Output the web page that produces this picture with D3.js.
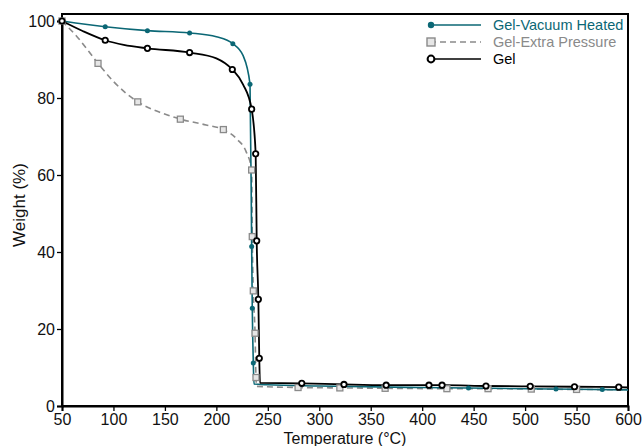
<!DOCTYPE html>
<html>
<head>
<meta charset="utf-8">
<script src="https://cdn.jsdelivr.net/npm/d3@7"></script>
<style>
  html, body { margin: 0; padding: 0; background: #fff; }
  svg { display: block; font-family: "Liberation Sans", Arial, sans-serif; }
</style>
</head>
<body>
<svg id="chart" width="644" height="446"></svg>
<script>
// TGA curves: temperature (°C) vs. remaining weight (%)
const xTicks = [50, 100, 150, 200, 250, 300, 350, 400, 450, 500, 550, 600];
const yTicks = [0, 20, 40, 60, 80, 100];

const seriesNames = ["Gel-Vacuum Heated", "Gel-Extra Pressure", "Gel"];

// Gel-Vacuum Heated
const vacCurveT = [50, 92, 133, 174, 200, 216, 226, 232.7, 234.3, 234.9, 235.9, 236.6, 250, 300, 400, 500, 600];
const vacCurveW = [100, 98.5, 97.5, 96.9, 95.9, 94.1, 91, 83.6, 41.4, 25.4, 11.2, 5.7, 5.5, 5.2, 4.8, 4.5, 4.2];
const vacMarkT = [50, 92, 133, 174, 216, 232.7, 234.3, 234.9, 235.9, 445, 530, 575];
const vacMarkW = [100, 98.5, 97.5, 96.9, 94.1, 83.6, 41.4, 25.4, 11.2, 4.7, 4.4, 4.3];

// Gel-Extra Pressure
const presCurveT = [50, 65, 85, 100, 123.6, 145, 165, 190, 206.8, 220, 229, 234.3, 234.9, 235.9, 237.6, 238.5, 239.2, 280, 320, 364, 424, 464, 506, 550, 600];
const presCurveW = [100, 95.8, 89, 84.3, 79, 76.3, 74.5, 73, 71.8, 69.3, 66, 61.3, 44, 29.9, 18.9, 7.4, 5.1, 4.8, 4.7, 4.6, 4.5, 4.5, 4.4, 4.3, 4.2];
const presMarkT = [50, 85, 123.6, 165, 206.8, 234.3, 234.9, 235.9, 237.6, 238.5, 279.4, 320, 364, 424, 464, 506, 550];
const presMarkW = [100, 89, 79, 74.5, 71.8, 61.3, 44, 29.9, 18.9, 7.4, 4.8, 4.7, 4.6, 4.5, 4.5, 4.4, 4.3];

// Gel
const gelCurveT = [50, 70, 92, 110, 133, 174, 200, 215.5, 226, 234.3, 238.2, 239.2, 240.8, 241.7, 242.4, 283, 324, 365, 420, 462, 505, 548, 591, 600];
const gelCurveW = [100, 97.4, 95, 93.8, 92.9, 91.8, 90.3, 87.4, 83.5, 77.1, 65.5, 42.9, 27.7, 12.4, 6.0, 5.9, 5.6, 5.4, 5.4, 5.2, 5.1, 5.0, 4.9, 4.8];
const gelMarkT = [50, 92, 133, 174, 215.5, 234.3, 238.2, 239.2, 240.8, 241.7, 283, 324, 365, 406.6, 419.3, 462, 505, 548, 591];
const gelMarkW = [100, 95, 92.9, 91.8, 87.4, 77.1, 65.5, 42.9, 27.7, 12.4, 5.9, 5.6, 5.4, 5.4, 5.4, 5.2, 5.1, 5.0, 4.9];

const colors = { vac: "#0b6775", pres: "#8a8a8a", gel: "#000000" };

const svg = d3.select("#chart");
const x = d3.scaleLinear().domain([50, 600]).range([62, 628]);
const y = d3.scaleLinear().domain([0, 100]).range([406, 21]);
const frameTop = 14;

const zip = (a, b) => a.map((v, i) => [v, b[i]]);
const line = d3.line().x(d => x(d[0])).y(d => y(d[1])).curve(d3.curveMonotoneX);

// plot frame
svg.append("rect")
  .attr("x", x(50)).attr("y", frameTop)
  .attr("width", x(600) - x(50)).attr("height", y(0) - frameTop)
  .attr("fill", "none").attr("stroke", "#000").attr("stroke-width", 2);

// axes
const xAxis = svg.append("g").attr("transform", `translate(0,${y(0)})`)
  .call(d3.axisBottom(x).tickValues(xTicks).tickSize(5).tickPadding(3).tickFormat(d3.format("d")));
const yAxis = svg.append("g").attr("transform", `translate(${x(50)},0)`)
  .call(d3.axisLeft(y).tickValues(yTicks).tickSize(5).tickPadding(2).tickFormat(d3.format("d")));
[xAxis, yAxis].forEach(g => {
  g.select(".domain").attr("stroke", "#000").attr("stroke-width", 2);
  g.selectAll(".tick line").attr("stroke", "#000").attr("stroke-width", 1.3);
  g.selectAll(".tick text").attr("fill", "#111").style("font-size", "16px")
    .style("font-family", "'Liberation Sans', Arial, sans-serif");
});

// axis titles
svg.append("text").attr("x", 345).attr("y", 444).attr("text-anchor", "middle")
  .style("font-size", "16px").attr("fill", "#111").text("Temperature (°C)");
svg.append("text").attr("transform", "translate(25,205) rotate(-90)").attr("text-anchor", "middle")
  .style("font-size", "17px").attr("fill", "#111").text("Weight (%)");

// curves
const plot = svg.append("g");
plot.append("path").datum(zip(presCurveT, presCurveW)).attr("d", line)
  .attr("fill", "none").attr("stroke", colors.pres).attr("stroke-width", 1.6).attr("stroke-dasharray", "6,4");
plot.append("path").datum(zip(vacCurveT, vacCurveW)).attr("d", line)
  .attr("fill", "none").attr("stroke", colors.vac).attr("stroke-width", 1.6);
plot.append("path").datum(zip(gelCurveT, gelCurveW)).attr("d", line)
  .attr("fill", "none").attr("stroke", colors.gel).attr("stroke-width", 1.8);

// markers
plot.append("g").selectAll("rect").data(zip(presMarkT, presMarkW)).join("rect")
  .attr("x", d => x(d[0]) - 3).attr("y", d => y(d[1]) - 3).attr("width", 6).attr("height", 6)
  .attr("fill", "#e6e6e6").attr("stroke", colors.pres).attr("stroke-width", 1.3);
plot.append("g").selectAll("circle").data(zip(vacMarkT, vacMarkW)).join("circle")
  .attr("cx", d => x(d[0])).attr("cy", d => y(d[1])).attr("r", 2.5)
  .attr("fill", colors.vac);
plot.append("g").selectAll("circle").data(zip(gelMarkT, gelMarkW)).join("circle")
  .attr("cx", d => x(d[0])).attr("cy", d => y(d[1])).attr("r", 2.7)
  .attr("fill", "#fff").attr("stroke", colors.gel).attr("stroke-width", 1.8);

// legend
const legend = svg.append("g");
const legRows = [
  { name: seriesNames[0], color: colors.vac, text: colors.vac, dash: null, mark: "dot" },
  { name: seriesNames[1], color: colors.pres, text: "#8a8a8a", dash: "6,4", mark: "square" },
  { name: seriesNames[2], color: colors.gel, text: "#000", dash: null, mark: "circle" }
];
legRows.forEach((r, i) => {
  const cy = 25 + i * 17;
  legend.append("line").attr("x1", 430).attr("x2", 481).attr("y1", cy).attr("y2", cy)
    .attr("stroke", r.color).attr("stroke-width", 1.5).attr("stroke-dasharray", r.dash);
  if (r.mark === "dot") legend.append("circle").attr("cx", 431).attr("cy", cy).attr("r", 3.2).attr("fill", r.color);
  if (r.mark === "square") legend.append("rect").attr("x", 427).attr("y", cy - 4).attr("width", 8).attr("height", 8)
    .attr("fill", "#e6e6e6").attr("stroke", r.color).attr("stroke-width", 1.4);
  if (r.mark === "circle") legend.append("circle").attr("cx", 431).attr("cy", cy).attr("r", 3.4)
    .attr("fill", "#fff").attr("stroke", r.color).attr("stroke-width", 2);
  legend.append("text").attr("x", 493).attr("y", cy + 5).style("font-size", "14.5px")
    .attr("fill", r.text).text(r.name);
});
</script>
</body>
</html>
